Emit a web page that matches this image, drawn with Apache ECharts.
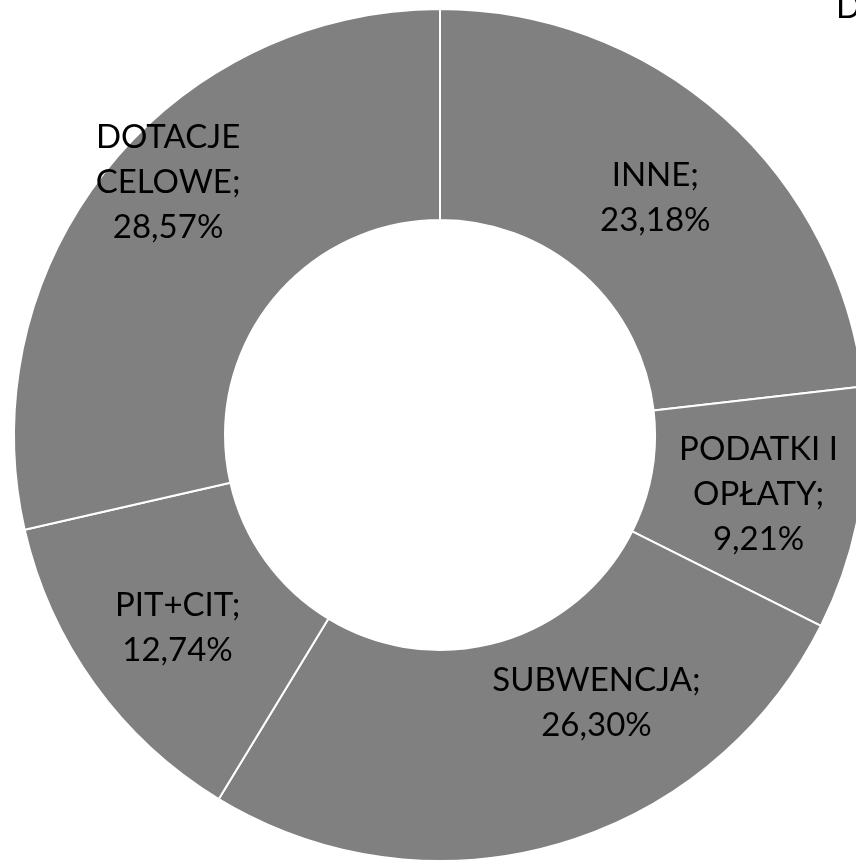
<!DOCTYPE html>
<html>
<head>
<meta charset="utf-8">
<script src="https://cdn.jsdelivr.net/npm/echarts@6/dist/echarts.min.js"></script>
<style>
html,body{margin:0;padding:0;background:#fff;}
#main{width:856px;height:861px;}
</style>
</head>
<body>
<div id="main"></div>
<script>
const categories = ['INNE', 'PODATKI I\nOPŁATY', 'SUBWENCJA', 'PIT+CIT', 'DOTACJE\nCELOWE'];
const values = [23.18, 9.21, 26.30, 12.74, 28.57];
const titleText = 'DOCHODY';

// label nudges (Excel-placed labels): dx right, up = shift upward (px)
const labelTweaks = {
  0: { dx: 0, up: -4 },
  1: { dx: 0, up: -3 },
  2: { dx: 67, up: 43 },
  3: { dx: 0, up: -4 },
  4: { dx: -19, up: 51 }
};

function fmt(p) {
  return p.name + ';\n' + p.value.toFixed(2).replace('.', ',') + '%';
}

const chart = echarts.init(document.getElementById('main'), null, {renderer: 'canvas'});
const data = categories.map((c, i) => {
  const d = { name: c, value: values[i] };
  const t = labelTweaks[i];
  if (t) {
    const lbl = {
      padding: [0, t.dx < 0 ? -2 * t.dx : 0, 0, t.dx > 0 ? 2 * t.dx : 0]
    };
    if (t.up > 0) {
      lbl.formatter = p => fmt(p) + '\n{sp|}';
      lbl.rich = { sp: { lineHeight: 2 * t.up, fontSize: 1 } };
    } else if (t.up < 0) {
      lbl.formatter = p => '{sp|}\n' + fmt(p);
      lbl.rich = { sp: { lineHeight: -2 * t.up, fontSize: 1 } };
    }
    d.label = lbl;
  }
  return d;
});
chart.setOption({
  animation: false,
  backgroundColor: '#fff',
  title: {
    text: titleText,
    left: 836,
    top: -9,
    padding: 0,
    textStyle: { fontFamily: 'Lato', fontSize: 33, fontWeight: 'normal', color: '#000' }
  },
  series: [{
    type: 'pie',
    center: [440, 435],
    radius: [215, 426],
    startAngle: 90,
    clockwise: true,
    silent: true,
    itemStyle: { color: '#808080', borderColor: '#fff', borderWidth: 2 },
    label: {
      show: true,
      position: 'inside',
      color: '#000',
      fontFamily: 'Lato',
      fontSize: 33,
      lineHeight: 45,
      align: 'center',
      formatter: fmt
    },
    labelLine: { show: false },
    data: data
  }]
});
</script>
</body>
</html>
